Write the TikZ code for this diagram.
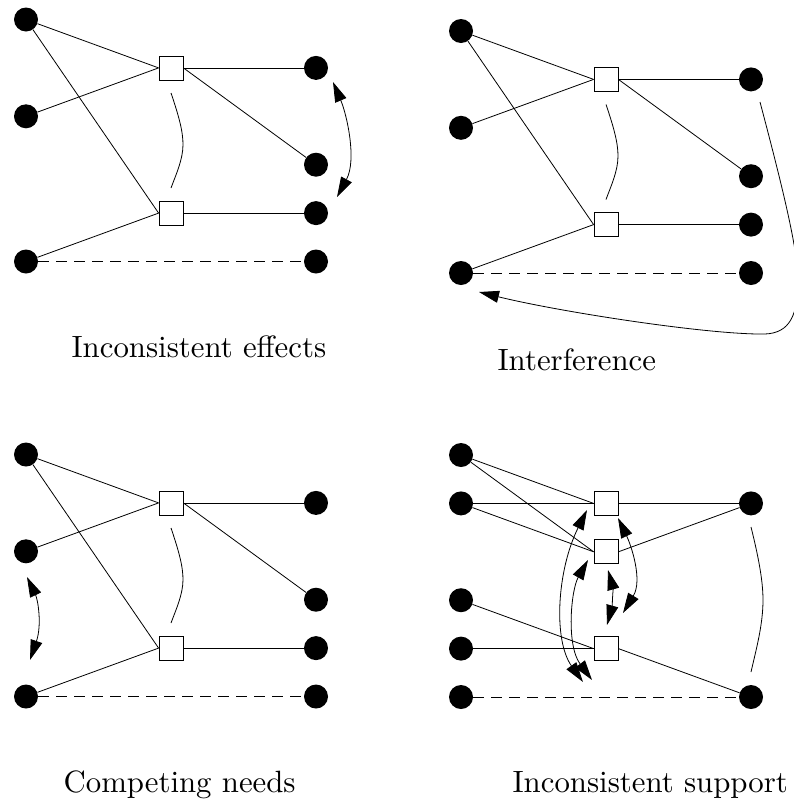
\documentclass[tikz,border=0pt]{standalone}
\usetikzlibrary{arrows.meta}

\tikzset{
  fact/.style={circle, fill=black, minimum size=24pt, inner sep=0pt},
  act/.style={rectangle, draw=black, fill=white, minimum size=24pt, inner sep=0pt, line width=0.8pt},
  link/.style={line width=0.8pt},
  nolink/.style={line width=0.8pt, dash pattern=on 11pt off 7pt},
  mutex/.style={line width=0.8pt},
  mutexboth/.style={line width=0.8pt,
    {Triangle[length=20pt,width=12pt]}-{Triangle[length=20pt,width=12pt]}},
  mutexto/.style={line width=0.8pt, -{Triangle[length=20pt,width=12pt]}},
  caption/.style={inner sep=0pt, scale=3.08, anchor=base west},
}

% Two-action planning-graph level shared by three of the panels;
% #1 is the prefix for the node names.
\newcommand\twoactlevel[1]{%
  \node[fact] (#1l1) at (0,0) {};
  \node[fact] (#1l2) at (0,96.8) {};
  \node[fact] (#1l3) at (0,242) {};
  \node[act]  (#1a1) at (145,48.4) {};
  \node[act]  (#1a2) at (145,193.6) {};
  \node[fact] (#1r1) at (290,48.4) {};
  \node[fact] (#1r2) at (290,145.2) {};
  \node[fact] (#1r3) at (290,193.6) {};
  \node[fact] (#1r4) at (290,242) {};
  \draw[link] (#1l1) -- (#1a1.west);
  \draw[link] (#1l1) -- (#1a2.west);
  \draw[link] (#1l2) -- (#1a1.west);
  \draw[link] (#1l3) -- (#1a2.west);
  \draw[link] (#1a1.east) -- (#1r1);
  \draw[link] (#1a1.east) -- (#1r2);
  \draw[link] (#1a2.east) -- (#1r3);
  \draw[nolink] (#1l3) -- (#1r4);
  % mutex arc between the two actions
  \coordinate (#1m1) at (145,73.5);
  \coordinate (#1m2) at (145,168.5);
  \draw[mutex] (#1m1) .. controls (153,97) and (157,112) .. (157,125)
                      .. controls (157,140) and (150,155) .. (#1m2);
}

\begin{document}
\begin{tikzpicture}[x=1pt, y=-1pt]
\useasboundingbox (0,0) rectangle (793,801);

% Inconsistent effects
\begin{scope}[shift={(26,19.5)}]
  \twoactlevel{e}
  \coordinate (ee1) at (307,62.5);
  \coordinate (ee2) at (311,177.5);
  \draw[mutexboth] (ee1) .. controls (321,95.5) and (331,140.5) .. (ee2);
\end{scope}

% Interference
\begin{scope}[shift={(461,31)}]
  \twoactlevel{i}
  \coordinate (ie1) at (299,71);
  \coordinate (ie2) at (18,261);
  \draw[mutexto] (ie1) .. controls (321,154) and (337,219) .. (337,249)
                       .. controls (337,284) and (329,302) .. (304,303)
                       .. controls (249,304) and (99,281) .. (ie2);
\end{scope}

% Competing needs
\begin{scope}[shift={(26,454.5)}]
  \twoactlevel{c}
  \coordinate (ce1) at (1,122.5);
  \coordinate (ce2) at (4,205.5);
  \draw[mutexboth] (ce1) .. controls (12,145.5) and (16,170.5) .. (ce2);
\end{scope}

% Inconsistent support
\begin{scope}[shift={(461,455)}]
  \node[fact] (sl1) at (0,0) {};
  \node[fact] (sl2) at (0,48.4) {};
  \node[fact] (sl3) at (0,145.2) {};
  \node[fact] (sl4) at (0,193.6) {};
  \node[fact] (sl5) at (0,242) {};
  \node[act]  (sa1) at (145,48.4) {};
  \node[act]  (sa2) at (145,96.8) {};
  \node[act]  (sa3) at (145,193.6) {};
  \node[fact] (sr1) at (290,48.4) {};
  \node[fact] (sr2) at (290,242) {};
  \draw[link] (sl1) -- (sa1.west);
  \draw[link] (sl1) -- (sa2.west);
  \draw[link] (sl2) -- (sa1.west);
  \draw[link] (sl2) -- (sa2.west);
  \draw[link] (sl3) -- (sa3.west);
  \draw[link] (sl4) -- (sa3.west);
  \draw[link] (sa1.east) -- (sr1);
  \draw[link] (sa2.east) -- (sr1);
  \draw[link] (sa3.east) -- (sr2);
  \draw[nolink] (sl5) -- (sr2);
  % mutex between the two facts
  \coordinate (sm1) at (290,72);
  \coordinate (sm2) at (290,217);
  \draw[mutex] (sm1) .. controls (297,100) and (302,125) .. (302,145)
                     .. controls (302,170) and (295,195) .. (sm2);
  % mutexes between the supporting actions
  \coordinate (sx1) at (126,55);
  \coordinate (sx2) at (122,227);
  \draw[mutexboth] (sx1) .. controls (96,115) and (92,185) .. (sx2);
  \coordinate (sy1) at (127,105);
  \coordinate (sy2) at (131,225);
  \draw[mutexboth] (sy1) .. controls (110,135) and (105,190) .. (sy2);
  \coordinate (sz1) at (147,115);
  \coordinate (sz2) at (146,170);
  \draw[mutexboth] (sz1) .. controls (152,133) and (151,152) .. (sz2);
  \coordinate (sw1) at (157,63);
  \coordinate (sw2) at (162,158);
  \draw[mutexboth] (sw1) .. controls (170,90) and (182,125) .. (sw2);
\end{scope}

% captions
\node[caption] (t1) at (71,357) {Inconsistent effects};
\node[caption] (t2) at (497,370) {Interference};
\node[caption] (t3) at (63,792) {Competing needs};
\node[caption] (t4) at (512,792) {Inconsistent support};
\end{tikzpicture}
\end{document}
